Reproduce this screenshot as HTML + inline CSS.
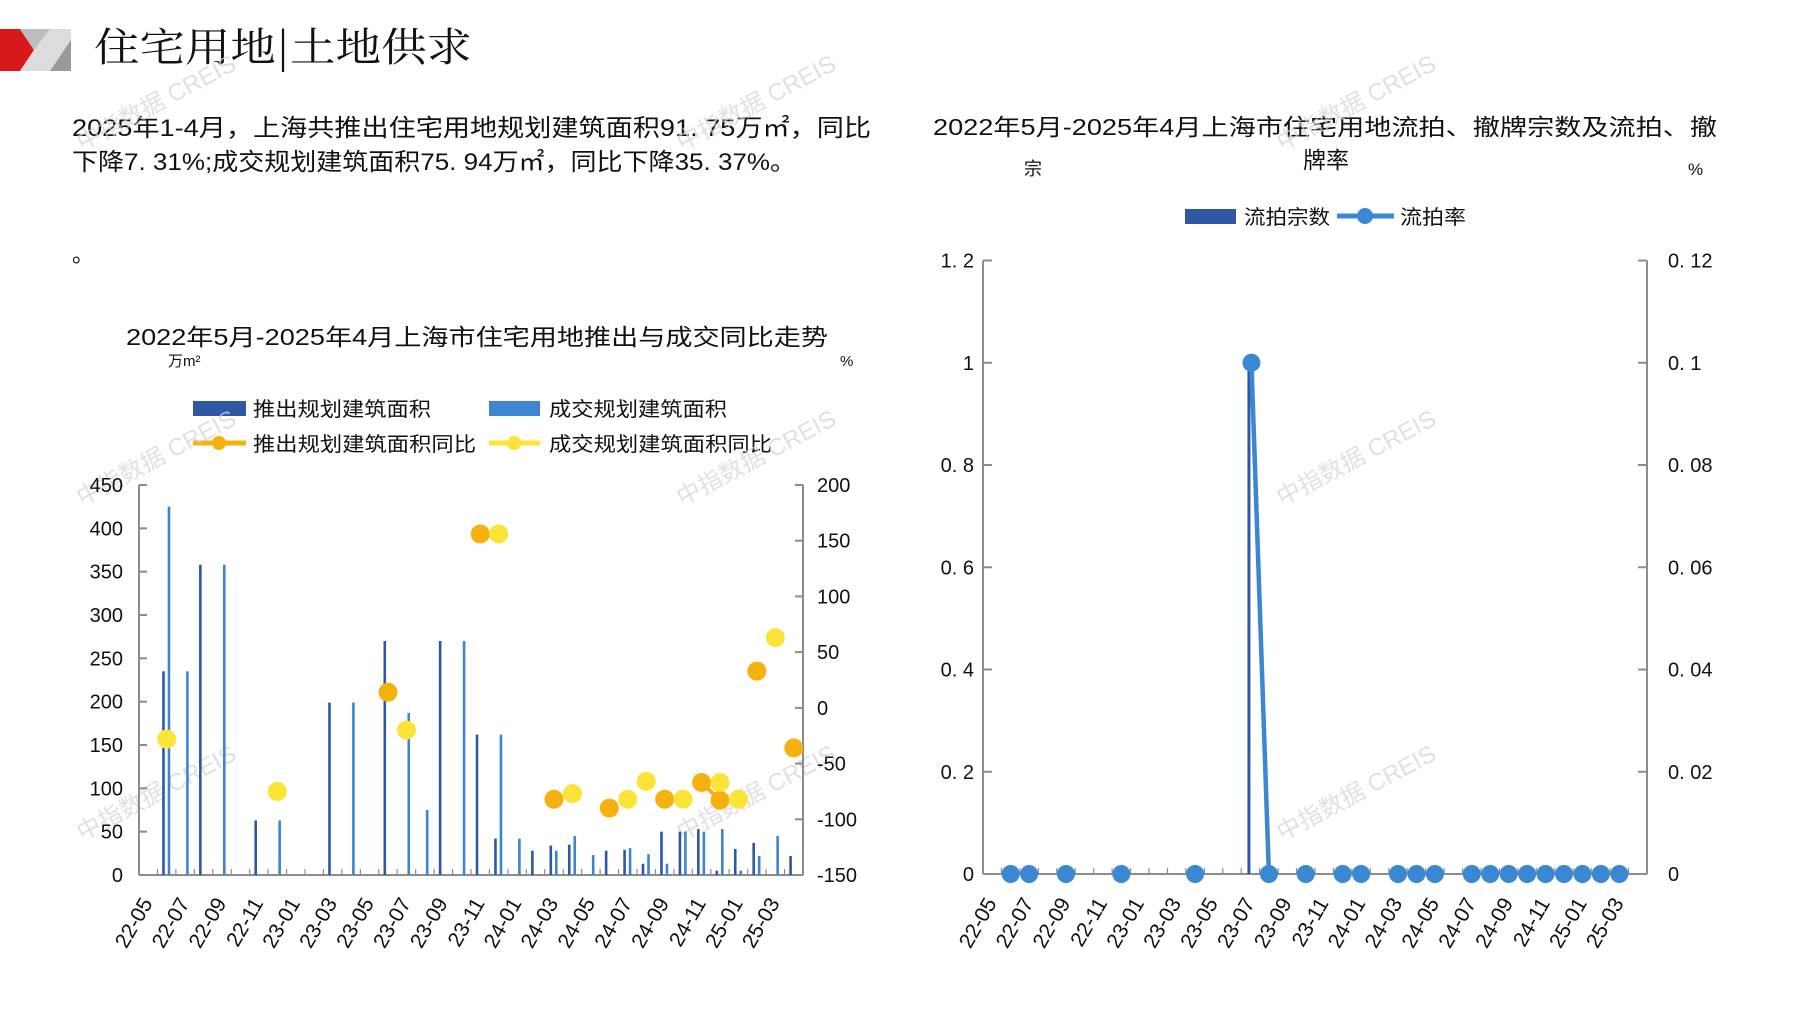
<!DOCTYPE html>
<html><head><meta charset="utf-8">
<style>
html,body{margin:0;padding:0;background:#fff;}
svg{display:block;}
text{font-family:"Liberation Sans","Noto Sans CJK SC",sans-serif;}
</style></head>
<body>
<svg id="s" width="1797" height="1010" viewBox="0 0 1797 1010" xmlns="http://www.w3.org/2000/svg">
<polygon points="0,29 20,29 34,50 20,71 0,71" fill="#d7191c"/>
<polygon points="20,29 71,29 71,71 20,71 34,50" fill="#dcdcdc"/>
<polygon points="20,29 50,29 34,50" fill="#bdbdbd"/>
<polygon points="71,40 71,71 50,71" fill="#9a9a9a"/>
<text x="94" y="61" font-size="40" fill="#111" textLength="378" lengthAdjust="spacingAndGlyphs" style="font-family:'Noto Serif CJK SC',serif">住宅用地|土地供求</text>
<text x="72" y="136" font-size="24" fill="#111" textLength="799" lengthAdjust="spacingAndGlyphs">2025年1-4月，上海共推出住宅用地规划建筑面积91. 75万㎡，同比</text>
<text x="72" y="170" font-size="24" fill="#111" textLength="724" lengthAdjust="spacingAndGlyphs">下降7. 31%;成交规划建筑面积75. 94万㎡，同比下降35. 37%。</text>
<text x="72" y="262" font-size="22" fill="#111">。</text>
<text x="477" y="345" font-size="23" fill="#111" text-anchor="middle" textLength="702" lengthAdjust="spacingAndGlyphs">2022年5月-2025年4月上海市住宅用地推出与成交同比走势</text>
<text x="168" y="366" font-size="15" fill="#111">万m²</text>
<text x="840" y="366" font-size="15" fill="#111">%</text>
<rect x="193" y="401" width="53" height="15" fill="#2e58a6"/>
<text x="253" y="416" font-size="20" fill="#111" textLength="178" lengthAdjust="spacingAndGlyphs">推出规划建筑面积</text>
<rect x="489" y="401" width="51" height="15" fill="#3d85d0"/>
<text x="549" y="416" font-size="20" fill="#111" textLength="178" lengthAdjust="spacingAndGlyphs">成交规划建筑面积</text>
<line x1="193" y1="443" x2="246" y2="443" stroke="#f5b20f" stroke-width="5"/>
<circle cx="219" cy="443" r="7" fill="#f5b20f"/>
<text x="253" y="451" font-size="20" fill="#111" textLength="223" lengthAdjust="spacingAndGlyphs">推出规划建筑面积同比</text>
<line x1="489" y1="443" x2="540" y2="443" stroke="#fbe337" stroke-width="5"/>
<circle cx="514" cy="443" r="7" fill="#fbe337"/>
<text x="549" y="451" font-size="20" fill="#111" textLength="223" lengthAdjust="spacingAndGlyphs">成交规划建筑面积同比</text>

<text x="1325" y="135" font-size="23" fill="#111" text-anchor="middle" textLength="784" lengthAdjust="spacingAndGlyphs">2022年5月-2025年4月上海市住宅用地流拍、撤牌宗数及流拍、撤</text>
<text x="1326" y="168" font-size="23" fill="#111" text-anchor="middle">牌率</text>
<text x="1024" y="175" font-size="18" fill="#111">宗</text>
<text x="1688" y="175" font-size="17" fill="#111">%</text>
<rect x="1185" y="209" width="51" height="15" fill="#2e58a6"/>
<text x="1244" y="224" font-size="20" fill="#111" textLength="86" lengthAdjust="spacingAndGlyphs">流拍宗数</text>
<line x1="1337" y1="216" x2="1394" y2="216" stroke="#3a87d4" stroke-width="5"/>
<circle cx="1365" cy="216" r="8" fill="#3a87d4"/>
<text x="1400" y="224" font-size="20" fill="#111" textLength="66" lengthAdjust="spacingAndGlyphs">流拍率</text>
<g id="g"></g>
</svg>
<script>
var g=document.getElementById('g'),h='';
function T(x,y,s,o){h+='<text x="'+x+'" y="'+y+'" '+(o||'')+'>'+s+'</text>';}
[[160,110],[760,110],[1360,110],[160,465],[760,465],[1360,465],[160,800],[760,800],[1360,800]].forEach(function(p){
 h+='<text x="'+p[0]+'" y="'+p[1]+'" font-size="24" fill="#d4d4d4" opacity="0.7" transform="rotate(-28 '+p[0]+' '+p[1]+')" text-anchor="middle">中指数据 CREIS</text>';});
var ax='#8c8c8c';
var L=139,R=803,Y0=875,Yt=485,w=(R-L)/36;
h+='<line x1="'+L+'" y1="'+Yt+'" x2="'+L+'" y2="'+Y0+'" stroke="'+ax+'" stroke-width="2"/>';
h+='<line x1="'+R+'" y1="'+Yt+'" x2="'+R+'" y2="'+Y0+'" stroke="'+ax+'" stroke-width="2"/>';
h+='<line x1="'+L+'" y1="'+Y0+'" x2="'+R+'" y2="'+Y0+'" stroke="'+ax+'" stroke-width="2"/>';
for(var i=0;i<=9;i++){var y=Y0-i*(Y0-Yt)/9;h+='<line x1="'+L+'" y1="'+y+'" x2="'+(L+8)+'" y2="'+y+'" stroke="'+ax+'" stroke-width="2"/>';
 T(123,y+7,i*50,'font-size="20" fill="#111" text-anchor="end"');}
for(var i=0;i<=7;i++){var y=Y0-i*(Y0-Yt)/7;h+='<line x1="'+(R-8)+'" y1="'+y+'" x2="'+R+'" y2="'+y+'" stroke="'+ax+'" stroke-width="2"/>';
 T(817,y+7,(-150+i*50),'font-size="20" fill="#111"');}
for(var i=1;i<36;i++){var x=L+i*w;h+='<line x1="'+x+'" y1="'+(Y0-6)+'" x2="'+x+'" y2="'+Y0+'" stroke="'+ax+'" stroke-width="1.2"/>';}
var labs=['22-05','22-07','22-09','22-11','23-01','23-03','23-05','23-07','23-09','23-11','24-01','24-03','24-05','24-07','24-09','24-11','25-01','25-03'];
labs.forEach(function(s,k){var x=L+(2*k+0.5)*w+5,y=903;T(x,y,s,'font-size="21" fill="#111" text-anchor="end" transform="rotate(-60 '+x+' '+y+')"');});
var dark={1:235,3:358,6:63,10:199,13:270,16:270,18:162,19:42,21:28,22:34,23:35,25:28,26:29,27:13,28:50,29:50,30:53,31:5,32:30,33:37,35:22};
var light={1:425,2:235,4:358,7:63,11:199,14:187,15:75,17:270,19:162,20:42,22:28,23:45,24:23,26:31,27:24,28:13,29:50,30:50,31:53,32:5,33:22,34:45};
function yl(v){return Y0-v/450*(Y0-Yt);}
function yr(v){return Y0-(v+150)/350*(Y0-Yt);}
for(var k in dark){var c=L+(+k+0.5)*w;h+='<rect x="'+(c-4.5)+'" y="'+yl(dark[k])+'" width="2.6" height="'+(Y0-yl(dark[k]))+'" fill="#2e58a6"/>';}
for(var k in light){var c=L+(+k+0.5)*w;h+='<rect x="'+(c+1)+'" y="'+yl(light[k])+'" width="2.6" height="'+(Y0-yl(light[k]))+'" fill="#3d85d0"/>';}
var OR='#f5b20f',YE='#fbe337';
var dots=[[1,-28,YE],[7,-75,YE],[13,14,OR],[14,-20,YE],[18,156,OR],[19,156,YE],[22,-82,OR],[23,-77,YE],[25,-90,OR],[26,-82,YE],[27,-66,YE],[28,-82,OR],[29,-82,YE],[30,-67,OR],[31,-83,OR],[31,-67,YE],[32,-82,YE],[33,33,OR],[34,63,YE],[35,-36,OR]];
h+='<line x1="'+(L+30.5*w)+'" y1="'+yr(-67)+'" x2="'+(L+31.5*w)+'" y2="'+yr(-83)+'" stroke="'+OR+'" stroke-width="4"/>';
dots.forEach(function(d){h+='<circle cx="'+(L+(d[0]+0.5)*w)+'" cy="'+yr(d[1])+'" r="9.5" fill="'+d[2]+'"/>';});
var L2=983,R2=1647,Yb=874,Ytop=260.5,w2=(R2-L2)/36;
h+='<line x1="'+L2+'" y1="'+Ytop+'" x2="'+L2+'" y2="'+Yb+'" stroke="'+ax+'" stroke-width="2"/>';
h+='<line x1="'+R2+'" y1="'+Ytop+'" x2="'+R2+'" y2="'+Yb+'" stroke="'+ax+'" stroke-width="2"/>';
h+='<line x1="'+L2+'" y1="'+Yb+'" x2="'+R2+'" y2="'+Yb+'" stroke="'+ax+'" stroke-width="2"/>';
var ll=['0','0. 2','0. 4','0. 6','0. 8','1','1. 2'],rl=['0','0. 02','0. 04','0. 06','0. 08','0. 1','0. 12'];
for(var i=0;i<=6;i++){var y=Yb-i*(Yb-Ytop)/6;
 h+='<line x1="'+L2+'" y1="'+y+'" x2="'+(L2+9)+'" y2="'+y+'" stroke="'+ax+'" stroke-width="2"/>';
 h+='<line x1="'+(R2-9)+'" y1="'+y+'" x2="'+R2+'" y2="'+y+'" stroke="'+ax+'" stroke-width="2"/>';
 T(974,y+7,ll[i],'font-size="20" fill="#111" text-anchor="end"');T(1668,y+7,rl[i],'font-size="20" fill="#111"');}
for(var i=1;i<36;i++){var x=L2+i*w2;h+='<line x1="'+x+'" y1="'+(Yb-6)+'" x2="'+x+'" y2="'+Yb+'" stroke="'+ax+'" stroke-width="1.2"/>';}
labs.forEach(function(s,k){var x=L2+(2*k+0.5)*w2+5,y=903;T(x,y,s,'font-size="21" fill="#111" text-anchor="end" transform="rotate(-60 '+x+' '+y+')"');});
var bx=L2+14.5*w2;
h+='<rect x="'+(bx-3)+'" y="'+(Yb-(Yb-Ytop)/1.2)+'" width="3" height="'+((Yb-Ytop)/1.2)+'" fill="#2e58a6"/>';
var pk=Yb-(Yb-Ytop)/1.2;
h+='<line x1="'+(bx+1)+'" y1="'+pk+'" x2="'+(L2+15.5*w2)+'" y2="'+Yb+'" stroke="#3a87d4" stroke-width="4.5"/>';
h+='<circle cx="'+(bx+1)+'" cy="'+pk+'" r="9" fill="#3a87d4"/>';
[1,2,4,7,11,15,17,19,20,22,23,24,26,27,28,29,30,31,32,33,34].forEach(function(i){h+='<circle cx="'+(L2+(i+0.5)*w2)+'" cy="'+Yb+'" r="9" fill="#3a87d4"/>';});
g.innerHTML=h;
</script>
</body></html>
